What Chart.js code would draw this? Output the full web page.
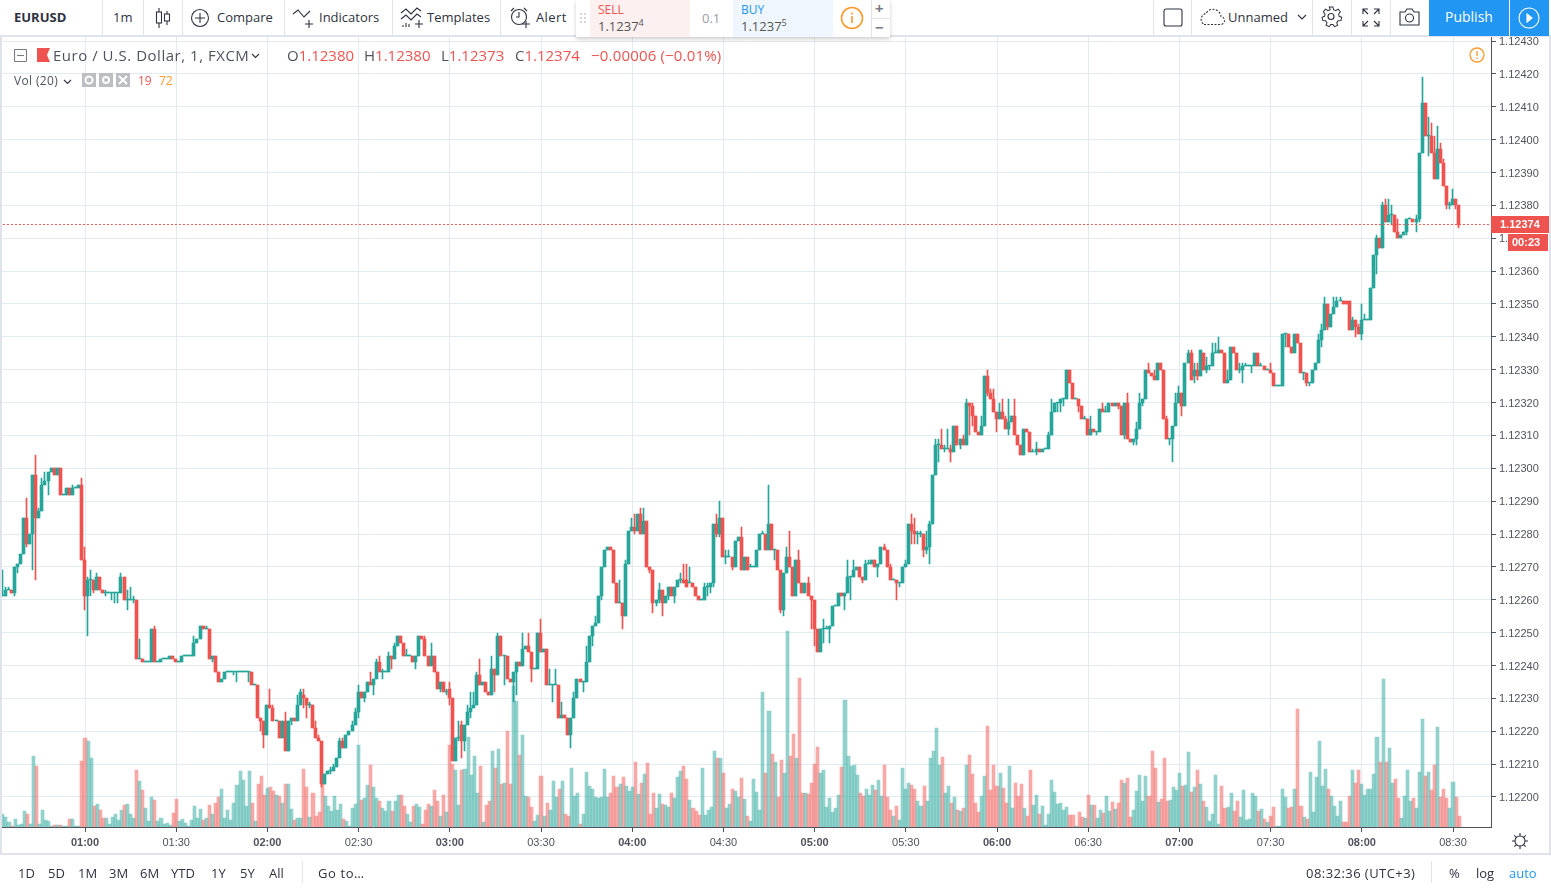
<!DOCTYPE html>
<html>
<head>
<meta charset="utf-8">
<title>EURUSD</title>
<script src="https://cdn.jsdelivr.net/npm/chart.js@4/dist/chart.umd.min.js"></script>
<style>
html,body{margin:0;padding:0;background:#fff;overflow:hidden}
body{width:1551px;height:891px;position:relative;font-family:"Open Sans",sans-serif;color:#2f3241}
canvas{position:absolute;left:0;top:0}
.t{position:absolute;white-space:nowrap;line-height:16px;font-size:13px}
.box{position:absolute}
.sep{position:absolute;width:1px;background:#e0e3eb}
.ic{position:absolute;fill:none;stroke:#2f3241;stroke-width:1.1}
sup{font-size:9px;line-height:0}
.r{color:#ef5350}
.g{color:#787b86}
</style>
</head>
<body>
<canvas id="chart" width="1551" height="891"></canvas>

<!-- top toolbar -->
<div class="box" style="left:0;top:0;width:1551px;height:35px;background:#fff;border-bottom:2px solid #e0e3eb"></div>
<span class="t" style="left:14px;top:9px;font-weight:700;font-size:13px">EURUSD</span>
<div class="sep" style="left:102px;top:0;height:35px"></div>
<span class="t" style="left:113px;top:9px">1m</span>
<div class="sep" style="left:143px;top:0;height:35px"></div>
<svg class="ic" style="left:154px;top:8px" width="18" height="20"><path d="M5 0v20M13 3v14"/><rect x="2.5" y="4" width="5" height="11" fill="#fff"/><rect x="10.5" y="6" width="5" height="7" fill="#fff"/></svg>
<div class="sep" style="left:182px;top:0;height:35px"></div>
<svg class="ic" style="left:190px;top:8px" width="20" height="20"><circle cx="10" cy="10" r="8.5"/><path d="M10 5v10M5 10h10"/></svg>
<span class="t" style="left:217px;top:9px">Compare</span>
<div class="sep" style="left:284px;top:0;height:35px"></div>
<svg class="ic" style="left:292px;top:8px" width="24" height="20"><path d="M1 6l5-4 6 7 6-6M17 12v8M13 16h8"/></svg>
<span class="t" style="left:319px;top:9px">Indicators</span>
<div class="sep" style="left:392px;top:0;height:35px"></div>
<svg class="ic" style="left:400px;top:7px" width="24" height="21"><path d="M1 6l5-4 5 5 6-6 4 3M1 12l5-4 5 5 6-6 4 3M19 13v8M15 17h8M3 18v2M6 16v4M9 17v3"/></svg>
<span class="t" style="left:427px;top:9px">Templates</span>
<div class="sep" style="left:500px;top:0;height:35px"></div>
<svg class="ic" style="left:509px;top:7px" width="22" height="22"><circle cx="10" cy="10" r="7.5"/><path d="M10 5v5h-3M2 4l3-3M15 1l3 3M17 14v7M13 17h8"/></svg>
<span class="t" style="left:536px;top:9px;letter-spacing:.4px">Alert</span>

<!-- order panel -->
<div class="box" style="left:576px;top:0;width:314px;height:37px;background:#fff;box-shadow:0 2px 4px rgba(0,0,0,.2)"></div>
<svg class="box" style="left:579px;top:12px" width="8" height="12"><path d="M1 1h2v2H1zM5 1h2v2H5zM1 5h2v2H1zM5 5h2v2H5zM1 9h2v2H1zM5 9h2v2H5z" fill="#d5d6db"/></svg>
<div class="box" style="left:590px;top:0;width:100px;height:37px;background:#fdf0f0"></div>
<div class="box" style="left:733px;top:0;width:100px;height:37px;background:#eff6fe"></div>
<span class="t r" style="left:598px;top:2px;font-size:12px">SELL</span>
<span class="t" style="left:598px;top:18px;color:#555">1.1237<sup>4</sup></span>
<span class="t" style="left:702px;top:10px;color:#9a9ca5">0.1</span>
<span class="t" style="left:741px;top:2px;font-size:12px;color:#2196f3">BUY</span>
<span class="t" style="left:741px;top:18px;color:#555">1.1237<sup>5</sup></span>
<svg class="ic" style="left:840px;top:6px;stroke:#ff9a2e;stroke-width:1.6" width="24" height="24"><circle cx="12" cy="12" r="10.5"/><path d="M12 10v7M12 6.5v2"/></svg>
<div class="sep" style="left:871px;top:0;height:37px"></div>
<div class="box" style="left:871px;top:18px;width:19px;height:1px;background:#e0e3eb"></div>
<span class="t g" style="left:875px;top:0px;font-size:15px;font-weight:700">+</span>
<span class="t g" style="left:875px;top:19px;font-size:15px;font-weight:700">−</span>

<!-- right of toolbar -->
<div class="sep" style="left:1153px;top:0;height:35px"></div>
<svg class="ic" style="left:1163px;top:8px" width="20" height="19"><rect x="1" y="1" width="18" height="17" rx="2"/></svg>
<div class="sep" style="left:1191px;top:0;height:35px"></div>
<svg class="ic" style="left:1199px;top:8px;stroke-dasharray:2 1.5" width="26" height="18"><path d="M5 16.5h16a4 4 0 0 0 1-8 8 8 0 0 0-15-3 6 6 0 0 0-2 11z"/></svg>
<span class="t" style="left:1228px;top:9px">Unnamed</span>
<svg class="ic" style="left:1297px;top:14px" width="10" height="6"><path d="M1 1l4 4 4-4"/></svg>
<div class="sep" style="left:1312px;top:0;height:35px"></div>
<svg class="ic" style="left:1321px;top:6px" width="22" height="22"><path d="M9 1h4l.6 3 2.5 1 2.6-1.600 2.3 2.900-1.800 2.500.5 2.400 2.800 1.100-.9 3.600-3 .1-1.500 2.100 1 2.900-3.400 1.500-1.700-2.500h-2.400l-1.700 2.500-3.400-1.500 1-2.900-1.500-2.100-3-.1-.9-3.600 2.800-1.100.5-2.400-1.800-2.500 2.300-2.900 2.600 1.600 2.500-1z" transform="scale(.92)"/><circle cx="10" cy="10.500" r="3"/></svg>
<div class="sep" style="left:1351px;top:0;height:35px"></div>
<svg class="ic" style="left:1362px;top:8px" width="18" height="19"><path d="M1 6V1h5M1 1l5 5M17 6V1h-5M17 1l-5 5M1 13v5h5M1 18l5-5M17 13v5h-5M17 18l-5-5"/></svg>
<div class="sep" style="left:1390px;top:0;height:35px"></div>
<svg class="ic" style="left:1399px;top:8px" width="21" height="18"><path d="M1 4h5l2-3h5l2 3h5v13H1z"/><circle cx="10.500" cy="10" r="4"/></svg>
<div class="box" style="left:1429px;top:0;width:80px;height:36px;background:#2196f3"></div>
<span class="t" style="left:1445px;top:9px;color:#fff;font-size:14px">Publish</span>
<div class="box" style="left:1510px;top:0;width:39px;height:36px;background:#2196f3"></div>
<svg class="ic" style="left:1518px;top:7px;stroke:#fff" width="22" height="22"><circle cx="11" cy="11" r="10"/><path d="M9 7l5 4-5 4z" fill="#fff"/></svg>

<!-- legend -->
<svg class="ic" style="left:14px;top:49px;stroke:#787b86" width="13" height="13"><rect x=".5" y=".5" width="12" height="12" rx="1"/><path d="M3 6.500h7"/></svg>
<svg class="box" style="left:37px;top:48px" width="13" height="14"><path d="M0 0h13l-3 7 3 7H0z" fill="#ef5350"/></svg>
<span class="t" style="left:53px;top:47px;font-size:15px;color:#50535e;letter-spacing:.52px">Euro / U.S. Dollar, 1, FXCM</span>
<svg class="ic" style="left:251px;top:53px" width="9" height="6"><path d="M1 1l3.500 3.500L8 1"/></svg>
<span class="t" style="left:287px;top:47px;font-size:15px;color:#50535e">O<span class="r">1.12380</span></span>
<span class="t" style="left:364px;top:47px;font-size:15px;color:#50535e">H<span class="r">1.12380</span></span>
<span class="t" style="left:441px;top:47px;font-size:15px;color:#50535e">L<span class="r">1.12373</span></span>
<span class="t" style="left:515px;top:47px;font-size:15px;color:#50535e">C<span class="r">1.12374</span></span>
<span class="t r" style="left:591px;top:47px;font-size:15px;letter-spacing:.18px">−0.00006 (−0.01%)</span>
<svg class="ic" style="left:1469px;top:47px;stroke:#ff9a2e;stroke-width:1.300" width="16" height="16"><circle cx="8" cy="8" r="7"/><path d="M8 4v5M8 10.500v1.500"/></svg>
<span class="t" style="left:14px;top:73px;font-size:12px;color:#50535e;letter-spacing:.35px">Vol (20)</span>
<svg class="ic" style="left:63px;top:79px" width="9" height="6"><path d="M1 1l3.500 3.500L8 1"/></svg>
<div class="box" style="left:82px;top:73px;width:14px;height:14px;background:#bdbec4"></div>
<div class="box" style="left:99px;top:73px;width:14px;height:14px;background:#bdbec4"></div>
<div class="box" style="left:116px;top:73px;width:14px;height:14px;background:#bdbec4"></div>
<svg class="ic" style="left:82px;top:73px;stroke:#fff;stroke-width:2" width="48" height="14"><circle cx="7" cy="7" r="3.500"/><circle cx="24" cy="7" r="3"/><path d="M37 3l8 8M45 3l-8 8"/></svg>
<span class="t r" style="left:138px;top:73px;font-size:12px">19</span>
<span class="t" style="left:159px;top:73px;font-size:12px;color:#ff9a2e">72</span>

<!-- current price tags -->
<div class="box" style="left:1491px;top:216px;width:58px;height:17px;background:#ef5350"></div>
<span class="t" style="left:1500px;top:216px;font:700 11px/17px 'Liberation Sans';color:#fff">1.12374</span>
<div class="box" style="left:1508px;top:234px;width:40px;height:17px;background:#ef5350"></div>
<span class="t" style="left:1512px;top:234px;font:700 11px/17px 'Liberation Sans';color:#fff">00:23</span>

<!-- bottom bar -->
<div class="box" style="left:0;top:853px;width:1551px;height:2px;background:#e0e3eb"></div>
<div class="box" style="left:0;top:37px;width:2px;height:816px;background:#e0e3eb"></div>
<div class="box" style="left:1549px;top:37px;width:2px;height:816px;background:#e0e3eb"></div>
<svg class="ic" style="left:1511px;top:832px" width="18" height="18"><circle cx="9" cy="9" r="5"/><path d="M9 1v3M9 14v3M1 9h3M14 9h3M3.300 3.300l2 2M12.700 12.700l2 2M14.700 3.300l-2 2M5.300 12.700l-2 2"/></svg>
<span class="t" style="left:18px;top:865px">1D</span>
<span class="t" style="left:48px;top:865px">5D</span>
<span class="t" style="left:78px;top:865px">1M</span>
<span class="t" style="left:109px;top:865px">3M</span>
<span class="t" style="left:140px;top:865px">6M</span>
<span class="t" style="left:171px;top:865px">YTD</span>
<span class="t" style="left:211px;top:865px">1Y</span>
<span class="t" style="left:240px;top:865px">5Y</span>
<span class="t" style="left:269px;top:865px">All</span>
<div class="sep" style="left:302px;top:861px;height:22px"></div>
<span class="t" style="left:318px;top:865px;letter-spacing:.6px">Go to…</span>
<span class="t" style="left:1306px;top:865px;letter-spacing:.45px">08:32:36 (UTC+3)</span>
<div class="sep" style="left:1431px;top:861px;height:22px"></div>
<span class="t" style="left:1449px;top:865px">%</span>
<span class="t" style="left:1476px;top:865px">log</span>
<span class="t" style="left:1509px;top:865px;color:#2196f3">auto</span>

<script>
// EURUSD 1m, prices in 1e-5 (12261 means 1.12261), one entry per minute from 00:33
const opens = [
12261,12261,12263,12263,12262,12270,12271,12274,12285,12277,
12280,12298,12285,12287,12295,12296,12299,12300,12298,12300,
12292,12292,12294,12292,12294,12294,12295,12272,12261,12266,
12266,12263,12267,12263,12262,12262,12262,12262,12262,12262,
12267,12260,12260,12260,12260,12242,12242,12241,12241,12241,
12251,12241,12241,12242,12242,12242,12243,12242,12241,12241,
12243,12243,12243,12243,12247,12248,12252,12251,12251,12242,
12243,12238,12235,12236,12238,12238,12238,12238,12238,12238,
12238,12238,12238,12234,12234,12224,12223,12219,12228,12227,
12223,12223,12218,12223,12214,12223,12224,12223,12228,12231,
12230,12228,12228,12221,12218,12217,12204,12207,12208,12208,
12209,12212,12217,12215,12219,12220,12222,12226,12232,12230,
12232,12235,12234,12236,12241,12238,12238,12238,12243,12242,
12246,12249,12247,12243,12243,12243,12241,12243,12249,12248,
12243,12240,12243,12238,12233,12235,12232,12233,12230,12211,
12218,12222,12217,12222,12226,12227,12228,12237,12234,12235,
12232,12231,12239,12237,12249,12243,12243,12236,12235,12238,
12241,12240,12245,12246,12244,12239,12239,12250,12244,12245,
12234,12234,12234,12234,12224,12225,12224,12219,12224,12230,
12236,12235,12235,12241,12249,12252,12253,12261,12270,12275,
12276,12275,12265,12259,12259,12255,12271,12281,12282,12281,
12286,12280,12284,12270,12269,12259,12260,12263,12259,12261,
12264,12261,12264,12266,12266,12266,12265,12265,12264,12261,
12260,12260,12264,12264,12265,12283,12280,12285,12273,12273,
12273,12270,12278,12279,12269,12273,12270,12270,12270,12275,
12280,12280,12275,12283,12275,12275,12269,12257,12268,12273,
12270,12261,12272,12265,12262,12265,12261,12260,12251,12244,
12251,12251,12251,12252,12258,12258,12262,12261,12262,12267,
12267,12269,12270,12267,12266,12271,12271,12272,12270,12271,
12276,12275,12270,12266,12266,12265,12265,12270,12271,12283,
12281,12280,12280,12280,12275,12276,12283,12298,12307,12307,
12306,12306,12306,12305,12313,12307,12309,12307,12320,12319,
12316,12311,12310,12313,12328,12323,12321,12317,12315,12317,
12315,12312,12314,12316,12310,12307,12304,12312,12311,12305,
12305,12306,12305,12306,12306,12310,12317,12320,12320,12321,
12321,12330,12326,12321,12321,12319,12315,12315,12310,12312,
12311,12311,12318,12317,12317,12320,12319,12320,12319,12310,
12320,12309,12308,12309,12312,12320,12321,12330,12329,12328,
12327,12332,12330,12315,12309,12309,12313,12320,12323,12319,
12332,12335,12328,12330,12328,12335,12330,12331,12331,12335,
12335,12336,12335,12326,12327,12337,12335,12330,12330,12331,
12331,12331,12331,12335,12331,12331,12330,12330,12329,12325,
12325,12325,12341,12341,12337,12335,12341,12338,12329,12329,
12326,12326,12330,12332,12339,12342,12350,12343,12347,12349,
12351,12351,12351,12351,12342,12345,12343,12341,12345,12345,
12345,12355,12365,12370,12367,12380,12375,12377,12377,12372,
12370,12371,12372,12376,12376,12375,12376,12396,12411,12401,
12401,12396,12388,12397,12393,12386,12380,12380,12382,12380];
const highs = [
12269,12264,12264,12263,12270,12271,12274,12285,12291,12280,
12298,12304,12288,12297,12299,12299,12300,12300,12300,12300,
12292,12294,12294,12295,12294,12295,12297,12276,12267,12269,
12266,12268,12267,12263,12263,12262,12262,12262,12262,12268,
12267,12263,12264,12261,12260,12248,12242,12241,12241,12251,
12252,12241,12242,12242,12242,12243,12243,12242,12241,12243,
12243,12243,12243,12249,12248,12252,12252,12252,12251,12243,
12243,12238,12236,12238,12238,12238,12238,12238,12238,12238,
12238,12238,12238,12234,12234,12224,12223,12228,12233,12228,
12223,12223,12223,12226,12223,12224,12224,12231,12233,12233,
12230,12229,12228,12223,12219,12217,12207,12208,12209,12210,
12212,12218,12218,12219,12220,12223,12227,12234,12232,12232,
12235,12238,12236,12242,12243,12239,12238,12244,12243,12247,
12249,12249,12247,12245,12243,12243,12243,12249,12249,12249,
12243,12247,12243,12238,12235,12235,12233,12235,12230,12218,
12223,12223,12222,12228,12232,12232,12238,12242,12235,12235,
12232,12243,12239,12250,12249,12243,12243,12236,12238,12241,
12241,12250,12246,12250,12244,12239,12250,12254,12245,12245,
12239,12234,12239,12234,12229,12225,12224,12224,12232,12236,
12236,12235,12246,12249,12252,12255,12261,12270,12275,12276,
12276,12275,12265,12266,12259,12272,12281,12285,12286,12286,
12288,12288,12284,12270,12269,12260,12265,12263,12261,12264,
12264,12264,12266,12268,12271,12271,12270,12265,12264,12261,
12260,12265,12265,12265,12283,12286,12290,12285,12275,12275,
12273,12278,12279,12282,12273,12273,12271,12270,12275,12280,
12281,12280,12295,12283,12275,12275,12269,12268,12276,12281,
12270,12272,12275,12265,12265,12267,12261,12260,12251,12251,
12254,12252,12252,12258,12258,12262,12262,12262,12272,12267,
12272,12270,12270,12267,12272,12272,12272,12272,12271,12276,
12277,12275,12271,12266,12266,12265,12270,12272,12283,12286,
12285,12281,12281,12280,12281,12284,12298,12309,12309,12312,
12307,12312,12307,12313,12313,12309,12310,12321,12320,12320,
12316,12311,12316,12328,12330,12324,12324,12317,12320,12321,
12316,12321,12316,12321,12310,12307,12312,12312,12311,12306,
12308,12306,12306,12306,12311,12321,12320,12320,12321,12321,
12330,12330,12326,12321,12321,12319,12316,12315,12316,12312,
12311,12318,12320,12319,12320,12320,12320,12320,12319,12320,
12323,12309,12309,12314,12323,12321,12330,12332,12329,12330,
12332,12332,12330,12316,12309,12313,12323,12325,12323,12332,
12336,12336,12332,12332,12336,12335,12334,12331,12338,12338,
12340,12336,12335,12330,12337,12337,12335,12332,12332,12332,
12331,12331,12335,12335,12332,12331,12330,12332,12329,12325,
12325,12341,12341,12341,12337,12341,12341,12338,12329,12329,
12326,12330,12332,12341,12344,12352,12350,12347,12352,12352,
12352,12351,12351,12351,12346,12345,12344,12350,12347,12345,
12355,12365,12371,12370,12381,12382,12382,12380,12377,12376,
12371,12372,12376,12376,12376,12377,12396,12419,12411,12407,
12405,12401,12404,12399,12394,12386,12381,12385,12382,12380];
const lows = [
12261,12261,12263,12262,12261,12268,12271,12274,12276,12277,
12269,12266,12285,12287,12295,12292,12299,12298,12298,12292,
12292,12292,12292,12292,12294,12294,12272,12257,12249,12261,
12262,12263,12263,12262,12261,12262,12260,12259,12259,12262,
12260,12257,12260,12259,12242,12242,12241,12241,12241,12241,
12241,12241,12241,12242,12242,12242,12242,12241,12241,12241,
12243,12243,12243,12243,12247,12248,12251,12251,12242,12241,
12238,12235,12235,12236,12238,12238,12237,12235,12238,12238,
12238,12235,12234,12234,12224,12220,12215,12219,12227,12223,
12223,12218,12218,12214,12214,12222,12223,12223,12228,12227,
12224,12227,12221,12218,12217,12203,12204,12207,12207,12208,
12209,12212,12215,12215,12219,12220,12222,12224,12230,12229,
12232,12234,12231,12236,12238,12236,12238,12238,12239,12242,
12246,12247,12243,12243,12243,12241,12239,12243,12248,12243,
12240,12240,12238,12233,12232,12232,12231,12228,12211,12211,
12217,12212,12214,12222,12224,12227,12228,12234,12234,12232,
12231,12231,12232,12237,12243,12234,12236,12235,12229,12231,
12240,12240,12245,12244,12235,12239,12239,12244,12244,12234,
12234,12229,12234,12224,12224,12224,12219,12215,12224,12230,
12235,12232,12235,12241,12246,12252,12253,12260,12270,12275,
12275,12265,12259,12259,12251,12255,12271,12281,12280,12281,
12280,12280,12270,12268,12256,12258,12259,12255,12259,12260,
12261,12259,12264,12265,12265,12264,12265,12264,12261,12260,
12260,12260,12261,12262,12264,12279,12279,12273,12271,12273,
12269,12270,12278,12269,12269,12269,12270,12270,12270,12275,
12280,12275,12275,12275,12272,12269,12256,12255,12268,12270,
12261,12261,12265,12262,12262,12261,12251,12246,12244,12244,
12247,12251,12247,12252,12258,12258,12261,12257,12262,12260,
12267,12269,12267,12265,12266,12271,12271,12270,12267,12271,
12275,12270,12266,12266,12260,12264,12265,12270,12271,12277,
12277,12277,12279,12273,12274,12271,12283,12298,12302,12306,
12305,12306,12302,12305,12307,12306,12307,12307,12310,12313,
12311,12310,12310,12313,12322,12321,12317,12311,12315,12315,
12312,12310,12314,12310,12307,12304,12304,12311,12305,12305,
12304,12305,12305,12306,12306,12310,12317,12317,12317,12319,
12321,12326,12321,12321,12317,12315,12315,12310,12310,12311,
12310,12311,12317,12317,12317,12319,12319,12318,12310,12309,
12309,12308,12307,12307,12312,12319,12321,12329,12328,12327,
12327,12330,12315,12309,12307,12302,12313,12320,12316,12319,
12332,12327,12326,12327,12328,12330,12329,12330,12331,12335,
12335,12335,12326,12326,12327,12335,12330,12329,12326,12331,
12331,12329,12331,12331,12331,12330,12330,12329,12325,12325,
12325,12325,12337,12337,12335,12335,12338,12329,12327,12325,
12325,12326,12330,12332,12337,12342,12342,12343,12347,12349,
12351,12350,12350,12342,12342,12340,12341,12339,12345,12345,
12345,12355,12359,12367,12367,12375,12375,12374,12372,12370,
12370,12371,12371,12376,12375,12372,12375,12396,12401,12395,
12396,12388,12388,12393,12386,12379,12379,12380,12379,12373];
const closes = [
12261,12263,12263,12262,12270,12271,12274,12285,12277,12280,
12298,12285,12287,12295,12296,12299,12300,12298,12300,12292,
12292,12294,12292,12294,12294,12295,12272,12261,12266,12266,
12263,12267,12263,12262,12262,12262,12262,12262,12262,12267,
12260,12260,12260,12260,12242,12242,12241,12241,12241,12251,
12241,12241,12242,12242,12242,12243,12242,12241,12241,12243,
12243,12243,12243,12247,12248,12252,12251,12251,12242,12243,
12238,12235,12236,12238,12238,12238,12238,12238,12238,12238,
12238,12238,12234,12234,12224,12223,12219,12228,12227,12223,
12223,12218,12223,12214,12223,12224,12223,12228,12232,12230,
12228,12228,12221,12218,12217,12204,12207,12208,12208,12209,
12212,12217,12215,12219,12220,12222,12226,12232,12230,12232,
12235,12234,12236,12241,12238,12238,12238,12243,12242,12246,
12249,12247,12243,12243,12243,12241,12243,12249,12248,12243,
12240,12243,12238,12233,12235,12232,12232,12230,12211,12218,
12218,12217,12222,12226,12227,12228,12237,12234,12235,12232,
12231,12239,12237,12249,12243,12243,12236,12235,12238,12241,
12240,12245,12246,12244,12239,12239,12250,12244,12245,12234,
12234,12234,12234,12224,12225,12224,12219,12224,12230,12236,
12235,12235,12241,12249,12252,12253,12261,12270,12275,12276,
12275,12265,12259,12259,12255,12271,12281,12282,12281,12286,
12280,12284,12270,12269,12259,12260,12263,12259,12261,12264,
12261,12264,12266,12266,12265,12264,12265,12264,12261,12260,
12260,12264,12264,12265,12283,12280,12285,12273,12273,12273,
12270,12278,12279,12269,12273,12269,12270,12270,12275,12280,
12280,12275,12283,12275,12275,12269,12257,12268,12273,12270,
12261,12272,12265,12262,12265,12261,12260,12251,12244,12251,
12251,12251,12252,12258,12258,12262,12261,12262,12267,12267,
12269,12270,12267,12266,12271,12271,12272,12270,12271,12276,
12275,12270,12266,12266,12265,12265,12270,12271,12283,12281,
12280,12280,12280,12275,12276,12283,12298,12307,12307,12306,
12306,12306,12305,12313,12307,12309,12307,12320,12319,12316,
12311,12310,12313,12328,12323,12321,12317,12315,12317,12315,
12312,12314,12316,12310,12307,12304,12312,12311,12305,12305,
12306,12305,12306,12306,12310,12317,12320,12320,12321,12321,
12330,12326,12321,12321,12319,12315,12315,12310,12312,12311,
12311,12318,12317,12317,12320,12319,12320,12319,12310,12320,
12309,12308,12309,12312,12320,12321,12330,12329,12328,12327,
12332,12330,12315,12309,12309,12313,12320,12323,12319,12332,
12335,12327,12330,12328,12336,12330,12331,12331,12335,12335,
12336,12335,12326,12327,12337,12335,12330,12330,12331,12331,
12331,12331,12335,12331,12331,12330,12330,12329,12325,12325,
12325,12341,12341,12337,12335,12341,12338,12329,12329,12326,
12326,12330,12332,12339,12342,12350,12343,12347,12349,12351,
12351,12350,12350,12342,12345,12343,12341,12345,12345,12345,
12355,12365,12370,12367,12380,12375,12377,12377,12372,12370,
12371,12372,12376,12376,12375,12376,12396,12411,12401,12401,
12396,12388,12397,12393,12386,12380,12380,12382,12380,12374];
const volumes = [
24,18,9,2,15,4,6,28,24,5,
127,110,5,30,12,11,2,4,4,4,
2,1,15,15,2,2,119,161,154,125,
37,42,30,17,17,5,18,24,12,31,
40,42,24,17,103,82,67,34,11,54,
48,11,17,5,7,3,26,50,10,15,
8,2,12,37,17,32,12,17,40,24,
44,54,69,17,30,12,43,75,100,84,
37,100,43,10,78,92,57,70,72,65,
57,56,43,78,78,33,12,16,16,105,
72,18,62,20,27,78,56,38,29,55,
30,42,15,11,2,35,42,148,49,53,
76,112,72,53,47,34,29,47,29,47,
58,58,38,24,9,38,42,36,6,31,
42,38,67,47,20,58,27,148,114,103,
40,103,105,162,94,128,61,110,9,40,
47,137,107,141,78,80,172,78,254,226,
130,166,56,54,36,11,22,92,20,43,
31,83,54,69,82,24,20,107,55,61,
5,24,99,74,69,54,52,54,104,54,
62,92,72,77,90,74,65,72,117,60,
79,95,115,23,61,34,59,41,40,36,
61,52,90,101,110,86,49,34,29,22,
106,22,31,36,137,124,124,97,34,41,
68,65,54,88,50,20,11,86,63,31,
243,97,209,131,117,54,121,97,353,128,
167,124,268,61,61,59,79,113,144,97,
103,36,52,27,34,58,108,229,128,110,
112,94,61,56,68,58,76,67,85,56,
112,54,31,20,38,13,106,68,79,76,
68,47,37,74,47,124,137,178,112,126,
61,74,43,54,31,29,34,112,130,95,
43,27,56,92,182,67,112,74,97,70,
43,110,34,79,56,77,34,20,103,40,
58,23,38,4,23,85,63,41,43,31,
36,22,22,2,27,18,16,58,40,40,
16,31,25,56,29,45,32,43,85,79,
88,18,31,65,94,47,92,56,137,106,
45,50,124,47,49,72,67,97,74,76,
135,63,72,103,77,47,36,11,23,94,
5,74,34,36,61,29,47,18,67,13,
14,61,56,29,32,14,9,20,36,2,
2,68,54,34,36,68,212,38,18,14,
99,27,90,155,74,104,68,56,38,20,
47,9,9,56,103,79,103,77,58,68,
68,95,162,117,266,117,142,79,86,52,
16,56,103,47,52,34,99,194,92,99,
67,112,180,54,68,52,34,81,54,20];
const lastPrice = 12374;
const priceStep = 10;

const green = '#26a69a', red = '#ef5350';
const volGreen = 'rgba(38,166,154,0.5)', volRed = 'rgba(239,83,80,0.5)';

// one category per minute, a few empty ones on the right like the platform leaves
const times = [];
for (let m = 33; m < 33 + 490; m++) {
    times.push(String(Math.floor(m / 60)).padStart(2, '0') + ':' + String(m % 60).padStart(2, '0'));
}
const isMark = t => t.endsWith(':00') || t.endsWith(':30');
const isUp = i => closes[i] >= opens[i];

// bars and the price line come out blurry on fractional pixels, so snap them
// flat candles stay 1px, volume bars stay flush so they end up 3 or 4px wide
const snapMarks = {
    id: 'snapMarks',
    afterDatasetsUpdate(chart) {
        chart.getSortedVisibleDatasetMetas().forEach(meta => {
            if (meta.type === 'line') {
                meta.data.forEach(el => { el.y = Math.floor(el.y) - 0.5; });
                return;
            }
            meta.data.forEach(el => {
                if (meta.yAxisID === 'vol') {
                    const l = Math.round(el.x - el.width / 2), r = Math.round(el.x + el.width / 2);
                    el.x = (l + r) / 2;
                    el.width = r - l;
                } else {
                    el.x = Math.floor(el.x - 0.5) + 0.5;
                }
                el.y = Math.round(el.y);
                el.base = Math.round(el.base);
                if (el.y === el.base) el.y -= 1;
            });
        });
    }
};

const ctx = document.getElementById('chart').getContext('2d');
new Chart(ctx, {
    data: {
        labels: times,
        datasets: [
            {
                type: 'line',
                data: times.map(() => lastPrice),
                yAxisID: 'y',
                borderColor: red,
                borderWidth: 1,
                borderDash: [2, 2],
                pointRadius: 0,
                order: 0
            },
            {
                type: 'bar',
                data: opens.map((o, i) => [o, closes[i]]),
                yAxisID: 'y',
                grouped: false,
                barThickness: 3,
                backgroundColor: opens.map((o, i) => isUp(i) ? green : red),
                order: 1
            },
            {
                type: 'bar',
                data: lows.map((l, i) => [l, highs[i]]),
                yAxisID: 'y',
                grouped: false,
                barThickness: 1,
                backgroundColor: opens.map((o, i) => isUp(i) ? green : red),
                order: 2
            },
            {
                type: 'bar',
                data: volumes,
                yAxisID: 'vol',
                grouped: false,
                barPercentage: 1,
                categoryPercentage: 1,
                backgroundColor: opens.map((o, i) => isUp(i) ? volGreen : volRed),
                order: 3
            }
        ]
    },
    options: {
        responsive: false,
        animation: false,
        events: [],
        layout: { padding: { left: 1.4, top: 37, right: 0, bottom: 0 } },
        plugins: { legend: { display: false }, tooltip: { enabled: false } },
        scales: {
            x: {
                type: 'category',
                offset: true,
                // ticks.padding would otherwise push the plot area in from the left
                afterFit(scale) { scale.height = 64; scale.paddingLeft = 0; scale.paddingRight = 0; },
                border: { color: '#50535e' },
                grid: {
                    offset: false,
                    drawOnChartArea: true,
                    tickLength: 5,
                    color: '#e1ecf2',
                    tickColor: '#50535e',
                    lineWidth: c => c.tick && isMark(times[c.index]) ? 1 : 0
                },
                ticks: {
                    autoSkip: false,
                    maxRotation: 0,
                    padding: 4,
                    color: '#50535e',
                    font: c => ({
                        family: "'Liberation Sans'",
                        size: 11,
                        weight: c.tick && c.tick.label && c.tick.label.endsWith(':00') ? 'bold' : 'normal'
                    }),
                    callback(v, i) { return isMark(times[i]) ? times[i] : ''; }
                }
            },
            y: {
                position: 'right',
                min: 12190.87,
                max: 12431.22,
                afterFit(scale) { scale.width = 60; },
                border: { color: '#50535e' },
                grid: { color: '#e1ecf2', tickColor: '#50535e', tickLength: 5 },
                ticks: {
                    stepSize: priceStep,
                    includeBounds: false,
                    padding: 3,
                    labelOffset: 1,
                    color: '#50535e',
                    font: { family: "'Liberation Sans'", size: 11 },
                    callback: v => '1.' + v
                }
            },
            vol: {
                display: false,
                min: 0,
                max: 1422
            }
        }
    },
    plugins: [snapMarks]
});
</script>
</body>
</html>
